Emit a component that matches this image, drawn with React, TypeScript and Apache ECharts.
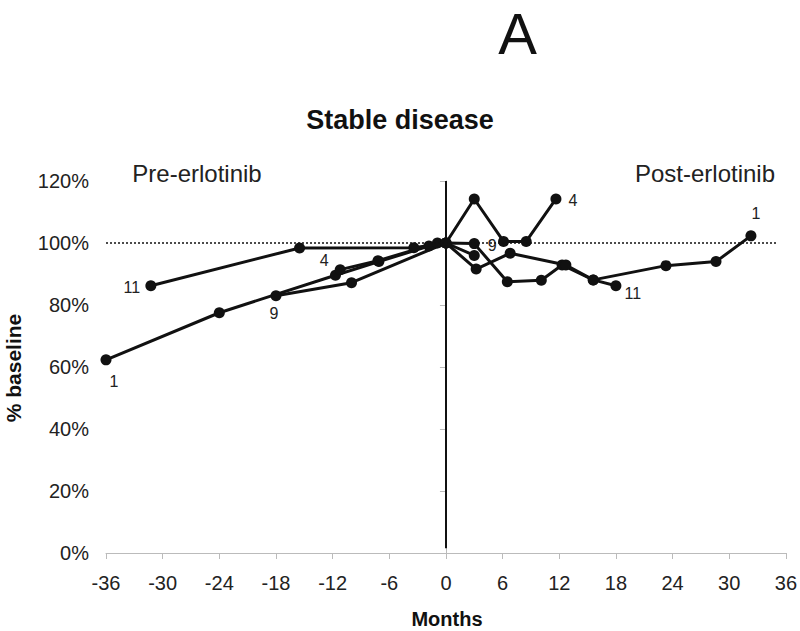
import React, { useEffect, useRef } from "react";
import * as echarts from "echarts";

// Patient series (months relative to erlotinib start, % of baseline)
const p1X = [-36, -24, -11.7, -7.1, -1.8, 0, 3, 6.5, 10.1, 12.3, 15.6, 23.3, 28.6, 32.3];
const p1Y = [62.3, 77.5, 89.6, 94, 99, 100, 99.8, 87.5, 88, 92.9, 88.1, 92.7, 94, 102.3];

const p4X = [-11.2, -7.2, -0.9, 0, 3, 6.1, 8.5, 11.65];
const p4Y = [91.4, 94.3, 100, 100, 114.2, 100.5, 100.5, 114.2];

const p9X = [-18, -10, 0, 3];
const p9Y = [83, 87.2, 100, 96];

const p11X = [-31.25, -15.5, -3.4, 0, 3.2, 6.8, 12.7, 15.6, 18];
const p11Y = [86.2, 98.4, 98.5, 100, 91.6, 96.7, 92.9, 88.1, 86.2];

const patientNames = ["1", "4", "9", "11"];
const xTicks = [-36, -30, -24, -18, -12, -6, 0, 6, 12, 18, 24, 30, 36];
const yTicks = [0, 20, 40, 60, 80, 100, 120];

export default function App() {
  const ref = useRef<HTMLDivElement>(null);
  useEffect(() => {
    if (!ref.current) return;
    const chart = echarts.init(ref.current, undefined, { renderer: "svg" });

    // label offsets (style) for first and last points of each patient
    const labelOffsets: Record<string, [[number, number], [number, number]]> = {
      "1": [[8, 22], [5, -22]],
      "4": [[-16, -9], [17, 2]],
      "9": [[-2, 18], [18, -10]],
      "11": [[-19, 2], [17, 8]],
    };

    const font = "Liberation Sans, Arial, sans-serif";

    const build = (name: string, xs: number[], ys: number[]) =>
      xs.map((x, i) => {
        const item: any = { value: [x, ys[i]] };
        if (i === 0 || i === xs.length - 1) {
          const off = labelOffsets[name][i === 0 ? 0 : 1];
          item.label = {
            show: true,
            formatter: name,
            position: "inside",
            offset: off,
            color: "#222",
            fontSize: 16,
            fontFamily: font,
          };
        }
        return item;
      });

    const allX = [p1X, p4X, p9X, p11X];
    const allY = [p1Y, p4Y, p9Y, p11Y];

    const lineSeries: any[] = patientNames.map((n, k) => ({
      type: "line",
      name: n,
      data: build(n, allX[k], allY[k]),
      symbol: "circle",
      symbolSize: 11,
      lineStyle: { color: "#111", width: 3 },
      itemStyle: { color: "#111" },
      z: 3,
    }));

    // reference lines
    lineSeries.push({
      type: "line",
      data: [],
      markLine: {
        silent: true,
        symbol: "none",
        label: { show: false },
        data: [
          [
            { coord: [-36, 100], lineStyle: { color: "#111", width: 1.5, type: [2, 2] } },
            { coord: [35, 100] },
          ],
          [
            { coord: [0, 1.5], lineStyle: { color: "#111", width: 2, type: "solid" } },
            { coord: [0, 120] },
          ],
        ],
      },
    });

    chart.setOption({
      animation: false,
      backgroundColor: "#fff",
      grid: { left: 106, right: 12, top: 181, bottom: 78 },
      xAxis: {
        type: "value",
        min: xTicks[0],
        max: xTicks[xTicks.length - 1],
        interval: 6,
        axisLine: { show: true, onZero: false, lineStyle: { color: "#bbb", width: 1 } },
        axisTick: { show: true, length: 6, lineStyle: { color: "#bbb" } },
        splitLine: { show: false },
        axisLabel: { color: "#222", fontSize: 20, fontFamily: font, margin: 20 },
      },
      yAxis: {
        type: "value",
        min: yTicks[0],
        max: yTicks[yTicks.length - 1],
        interval: 20,
        axisLine: { show: true, lineStyle: { color: "#bbb", width: 1 } },
        axisTick: { show: true, length: 6, lineStyle: { color: "#bbb" } },
        splitLine: { show: false },
        axisLabel: {
          color: "#222",
          fontSize: 20,
          fontFamily: font,
          margin: 17,
          formatter: (v: number) => `${v}%`,
        },
      },
      graphic: [
        {
          type: "text",
          x: 517.5,
          y: 33,
          style: { text: "A", fontSize: 58, fontFamily: font, fill: "#111", align: "center", verticalAlign: "middle" },
        },
        {
          type: "text",
          x: 400,
          y: 120,
          style: { text: "Stable disease", fontSize: 27, fontWeight: "bold", fontFamily: font, fill: "#111", align: "center", verticalAlign: "middle" },
        },
        {
          type: "text",
          x: 197,
          y: 173,
          style: { text: "Pre-erlotinib", fontSize: 24, fontFamily: font, fill: "#222", align: "center", verticalAlign: "middle" },
        },
        {
          type: "text",
          x: 705,
          y: 173,
          style: { text: "Post-erlotinib", fontSize: 24, fontFamily: font, fill: "#222", align: "center", verticalAlign: "middle" },
        },
        {
          type: "text",
          x: 447,
          y: 619,
          style: { text: "Months", fontSize: 20, fontWeight: "bold", fontFamily: font, fill: "#111", align: "center", verticalAlign: "middle" },
        },
        {
          type: "text",
          x: 13,
          y: 368,
          rotation: Math.PI / 2,
          style: { text: "% baseline", fontSize: 21, fontWeight: "bold", fontFamily: font, fill: "#111", align: "center", verticalAlign: "middle" },
        },
      ],
      series: lineSeries,
    });
    return () => chart.dispose();
  }, []);
  return (
    <div
      ref={ref}
      style={{ position: "fixed", left: 0, top: 0, width: 800, height: 631, background: "#fff" }}
    />
  );
}
